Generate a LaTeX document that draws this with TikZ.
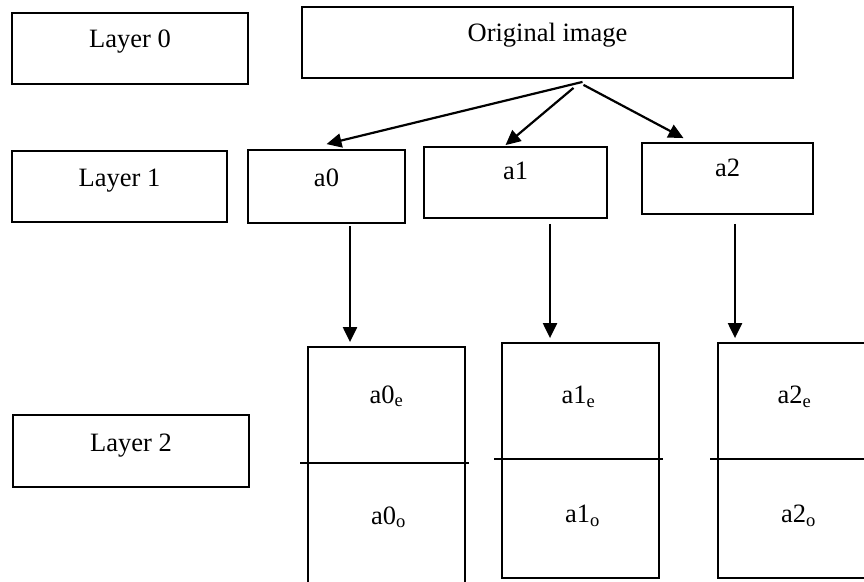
\documentclass[tikz,border=0pt]{standalone}
\usepackage{fontspec}
\setmainfont{Liberation Serif}
\usetikzlibrary{positioning,arrows.meta,calc}
\tikzset{
  >={Triangle[length=15pt,width=14pt]},
  box/.style 2 args={draw, line width=1.8pt, inner sep=0pt,
    minimum width=#1, minimum height=#2},
  txt/.style={anchor=base, yshift=-#1},
  txt/.default=35pt,
}

\begin{document}
\begin{tikzpicture}[
  x=1pt, y=-1pt,
  font=\fontsize{26.5}{30}\selectfont,
  arr/.style={->, line width=2.2pt},
]
\useasboundingbox (0,0) rectangle (864,581);
\clip (0,0) rectangle (864,581);

% layer names
\node[box={236pt}{71pt}, label={[txt]north:Layer 0}] (lay0) at (130,48.5) {};
\node[box={215pt}{71pt}, label={[txt=36pt]north:Layer 1}] (lay1) at (119.5,186.5) {};
\node[box={236pt}{72pt}, label={[txt=37pt]north:Layer 2}] (lay2) at (131,451) {};

% layer 0 and 1
\node[box={491pt}{71pt}, label={[txt]north:Original image}] (orig) at (547.5,42.5) {};
\node[box={157pt}{73pt}, label={[txt=37pt]north:a0}] (a0) at (326.5,186.5) {};
\node[box={183pt}{71pt}, label={[txt=33pt]north:a1}] (a1) at (515.5,182.5) {};
\node[box={171pt}{71pt}, label={[txt=34pt]north:a2}] (a2) at (727.5,178.5) {};

% layer 2
\node[box={157pt}{240pt}] (s0) at (386.5,467) {};
\node[box={157pt}{235pt}] (s1) at (580.5,460.5) {};
\node[box={157pt}{235pt}] (s2) at (796.5,460.5) {};
\draw[line width=1.8pt] ([xshift=-7pt,yshift=4pt]s0.west) -- ([xshift=3pt,yshift=4pt]s0.east);
\draw[line width=1.8pt] ([xshift=-7pt,yshift=1.5pt]s1.west) -- ([xshift=3pt,yshift=1.5pt]s1.east);
\draw[line width=1.8pt] ([xshift=-7pt,yshift=1.5pt]s2.west) -- ([xshift=3pt,yshift=1.5pt]s2.east);

\node[anchor=base] (e0) at ($(s0.center)+(0,-64)$) {a0\textsubscript{e}};
\node[anchor=base] (o0) at ($(s0.center)+(2,57)$) {a0\textsubscript{o}};
\node[anchor=base] (e1) at ($(s1.center)+(-2,-57)$) {a1\textsubscript{e}};
\node[anchor=base] (o1) at ($(s1.center)+(2,62)$) {a1\textsubscript{o}};
\node[anchor=base] (e2) at ($(s2.center)+(-2,-57)$) {a2\textsubscript{e}};
\node[anchor=base] (o2) at ($(s2.center)+(2,62)$) {a2\textsubscript{o}};

\coordinate (src0) at ($(orig.south)+(35,3)$);
\coordinate (src1) at ($(orig.south)+(26,9)$);
\coordinate (src2) at ($(orig.south)+(36,6)$);
\coordinate (d0) at ([xshift=23.5pt,yshift=-2pt]a0.south);
\coordinate (d1) at ([xshift=34.5pt,yshift=-5pt]a1.south);
\coordinate (d2) at ([xshift=7.5pt,yshift=-9pt]a2.south);

\path[arr]
(src0) edge ([yshift=5pt]a0.north)
(src1) edge ([xshift=-10pt,yshift=1pt]a1.north)
(src2) edge ([xshift=-44pt,yshift=4pt]a2.north);

\path[arr, shorten >=4pt]
(d0) edge (d0 |- s0.north)
(d1) edge (d1 |- s1.north)
(d2) edge (d2 |- s2.north);
\end{tikzpicture}
\end{document}
